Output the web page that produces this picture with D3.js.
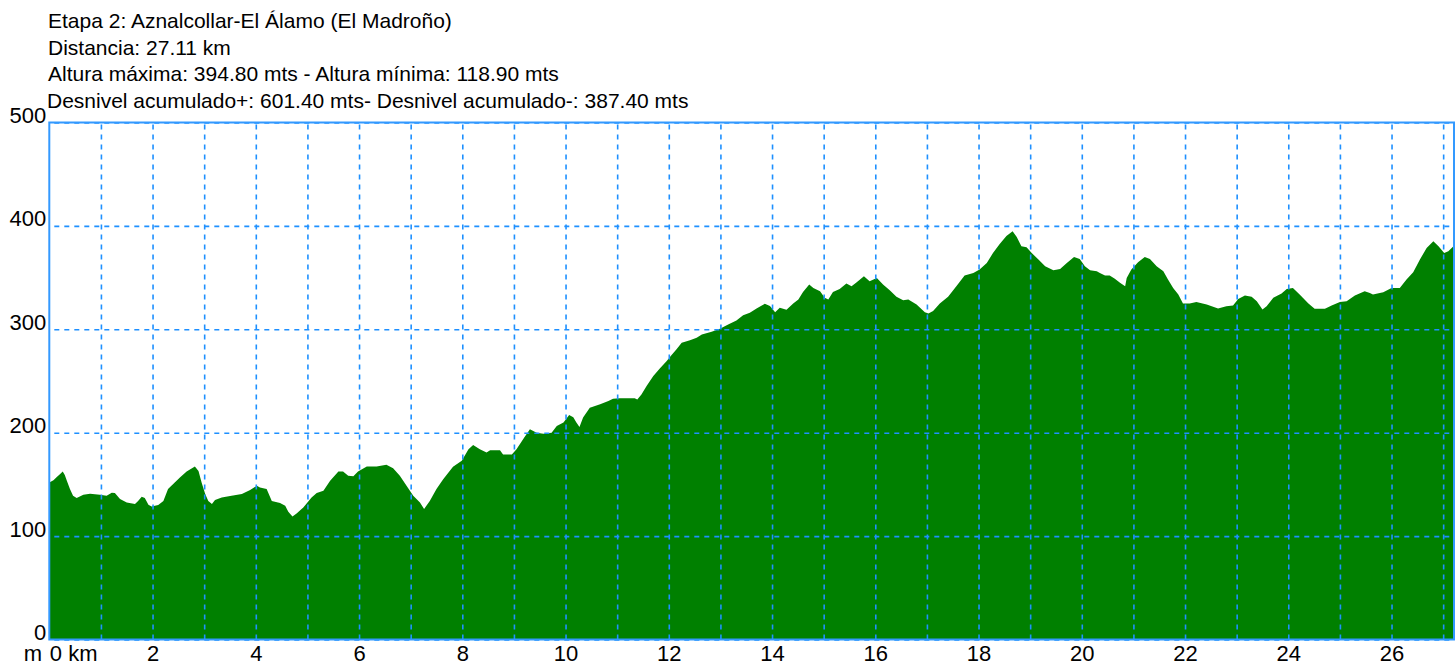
<!DOCTYPE html>
<html>
<head>
<meta charset="utf-8">
<script src="https://cdn.jsdelivr.net/npm/d3@7"></script>
<style>
  body { margin: 0; background: #fff; }
  svg { display: block; font-family: "Liberation Sans", Arial, sans-serif; }
</style>
</head>
<body>
<script>
// profile data (km, metres)
var distKm = [0.00, 0.08, 0.14, 0.21, 0.26, 0.30, 0.34, 0.40, 0.46, 0.53, 0.66, 0.79, 0.98, 1.11, 1.21, 1.27, 1.37, 1.50, 1.66, 1.72,
  1.79, 1.85, 1.92, 1.98, 2.11, 2.21, 2.30, 2.40, 2.53, 2.66, 2.82, 2.89, 2.95, 3.02, 3.08, 3.15, 3.21, 3.34, 3.53, 3.73,
  3.89, 4.02, 4.08, 4.21, 4.31, 4.47, 4.57, 4.63, 4.71, 4.79, 4.92, 5.08, 5.18, 5.31, 5.44, 5.60, 5.69, 5.79, 5.89, 5.98,
  6.15, 6.34, 6.53, 6.66, 6.79, 6.92, 7.05, 7.18, 7.26, 7.37, 7.50, 7.63, 7.82, 7.99, 8.12, 8.21, 8.34, 8.47, 8.54, 8.73,
  8.79, 8.96, 9.05, 9.21, 9.31, 9.44, 9.57, 9.73, 9.83, 9.96, 10.07, 10.15, 10.21, 10.27, 10.34, 10.47, 10.67, 10.83, 10.92, 11.05,
  11.34, 11.39, 11.47, 11.57, 11.70, 11.83, 11.96, 12.05, 12.15, 12.25, 12.41, 12.54, 12.64, 12.83, 12.99, 13.15, 13.31, 13.44, 13.57, 13.70,
  13.86, 13.96, 14.06, 14.15, 14.28, 14.41, 14.51, 14.60, 14.72, 14.80, 14.93, 15.02, 15.09, 15.18, 15.31, 15.44, 15.54, 15.64, 15.78, 15.89,
  16.03, 16.15, 16.28, 16.41, 16.54, 16.64, 16.80, 16.96, 17.03, 17.12, 17.25, 17.41, 17.57, 17.73, 17.90, 18.02, 18.16, 18.28, 18.41, 18.54,
  18.66, 18.74, 18.83, 18.93, 19.03, 19.16, 19.29, 19.45, 19.58, 19.71, 19.85, 19.96, 20.06, 20.16, 20.29, 20.35, 20.45, 20.54, 20.64, 20.74,
  20.84, 20.87, 20.96, 21.09, 21.22, 21.32, 21.45, 21.58, 21.67, 21.77, 21.87, 21.96, 22.09, 22.22, 22.42, 22.64, 22.80, 22.93, 23.03, 23.16,
  23.29, 23.39, 23.50, 23.58, 23.71, 23.87, 23.97, 24.09, 24.22, 24.39, 24.51, 24.71, 24.84, 25.00, 25.13, 25.29, 25.48, 25.58, 25.64, 25.84,
  26.00, 26.16, 26.29, 26.42, 26.55, 26.68, 26.81, 26.91, 27.02, 27.10, 27.21];
var altM = [151.8, 154, 157, 160, 162.5, 159, 153.5, 145.5, 139, 136.8, 140, 141, 140, 139, 142, 141.6, 135.8, 132.5, 131, 134,
  138, 136.8, 130.3, 128.7, 130, 134, 145.5, 150.3, 156.7, 162.5, 167.3, 163, 151.8, 140.6, 134, 131, 135, 137.4, 139, 140.6,
  144.5, 148.6, 147, 145.5, 134, 132, 129.3, 123.5, 119, 121.9, 127.7, 137.4, 141.6, 143.8, 153.5, 162.5, 162.5, 158.3, 158, 162.5,
  167.3, 167.3, 169, 165.7, 158.3, 148.6, 139, 132.5, 126.2, 134, 145.5, 155, 167, 172.8, 184, 188.2, 184, 180.8, 183, 183,
  179, 179, 184, 196, 203.4, 200, 199, 200, 206.6, 209.8, 217, 215, 209.8, 205.6, 214.6, 224.2, 227.5, 230.7, 232.9, 233.3,
  233.3, 232, 237, 245.2, 254.8, 262.3, 269.3, 275, 280.6, 287, 289.3, 291.8, 295, 297.6, 300.5, 304.7, 308.6, 313.7, 316, 320,
  324.6, 322.5, 316.6, 320.8, 319, 325, 328.9, 336, 343.3, 340, 336.9, 330.4, 328.9, 336, 339, 344.3, 341.7, 345.6, 351.4, 346.5,
  349.7, 343.3, 337.8, 331.4, 328.2, 328.9, 324, 316.6, 315.3, 317.6, 325, 331.4, 341.7, 352, 354.5, 357.8, 364.2, 373.8, 382.5, 390.3,
  394.8, 389.3, 380.3, 379.3, 373.8, 367.5, 361, 357.1, 358.4, 364.2, 370, 368, 361, 357.1, 356.2, 354.5, 352, 352, 348.8, 344.9,
  341.7, 349.7, 357.8, 364.9, 370, 368, 361, 356.2, 348.2, 340, 333.7, 325, 325, 326.3, 324, 320.2, 322.4, 323, 329.4, 332.7,
  331.4, 327.2, 319.2, 322.4, 330.4, 334.6, 339, 340, 333.7, 325, 319.8, 319.8, 323, 326.3, 327.2, 332.7, 336.9, 335.2, 333.7, 335.9,
  340, 340, 348.2, 355.2, 367.5, 378.7, 385.1, 380.3, 373.8, 375.5, 380.9];

var yTicks = [0, 100, 200, 300, 400, 500];
var xLabelTicks = [0, 2, 4, 6, 8, 10, 12, 14, 16, 18, 20, 22, 24, 26];
var xGridTicks = d3.range(1, 28);
var titleLines = [
  "Etapa 2: Aznalcollar-El Álamo (El Madroño)",
  "Distancia: 27.11 km",
  "Altura máxima: 394.80 mts - Altura mínima: 118.90 mts",
  "Desnivel acumulado+: 601.40 mts- Desnivel acumulado-: 387.40 mts"
];

var W = 1456, H = 665;
var plotL = 49.3, plotR = 1454, plotT = 122.5, plotB = 639.5;
var gridColor = '#1e90ff';

var svg = d3.select("body").append("svg")
    .attr("width", W)
    .attr("height", H);

var x = d3.scaleLinear().domain([0, 27.21]).range([plotL, plotR]);
var y = d3.scaleLinear().domain([0, 500]).range([plotB, plotT]);

// header text
svg.selectAll("text.title")
    .data(titleLines)
    .enter().append("text")
    .attr("class", "title")
    .attr("x", function(d, i) { return i == 3 ? 47 : 48; })
    .attr("y", function(d, i) { return 28 + i * 26.7; })
    .attr("font-size", 21)
    .attr("fill", "#000")
    .text(function(d) { return d; });

// elevation area
var pts = distKm.map(function(d, i) { return [d, altM[i]]; });
var area = d3.area()
    .x(function(d) { return x(d[0]); })
    .y0(y(0))
    .y1(function(d) { return y(d[1]); });

svg.append("path")
    .datum(pts)
    .attr("d", area)
    .attr("fill", "#008000");

// grid
var gx = svg.append("g")
    .attr("transform", "translate(0," + plotB + ")")
    .call(d3.axisBottom(x).tickValues(xGridTicks).tickSize(-(plotB - plotT)).tickFormat(""));
gx.select(".domain").remove();
gx.selectAll("line")
    .attr("stroke", gridColor)
    .attr("stroke-width", 1.6)
    .attr("stroke-dasharray", "5,5");

var gy = svg.append("g")
    .attr("transform", "translate(" + plotL + ",0)")
    .call(d3.axisLeft(y).tickValues(yTicks).tickSize(-(plotR - plotL)).tickPadding(3));
gy.select(".domain").remove();
gy.selectAll("line")
    .attr("stroke", gridColor)
    .attr("stroke-width", 1.6)
    .attr("stroke-dasharray", "5,5")
    .attr("stroke-dashoffset", -5);
gy.selectAll("text")
    .attr("dy", "0")
    .attr("font-size", 22)
    .attr("font-family", "Liberation Sans, Arial, sans-serif")
    .attr("fill", "#000");

// x labels
var lx = svg.append("g")
    .attr("transform", "translate(0," + plotB + ")")
    .call(d3.axisBottom(x).tickValues(xLabelTicks).tickSize(0).tickPadding(6)
        .tickFormat(function(d) { return d == 0 ? "0 km" : d; }));
lx.select(".domain").remove();
lx.selectAll("text")
    .attr("font-size", 22)
    .attr("font-family", "Liberation Sans, Arial, sans-serif")
    .attr("fill", "#000")
    .attr("text-anchor", function(d) { return d == 0 ? "start" : "middle"; });

svg.append("text")
    .attr("x", 42)
    .attr("y", 661)
    .attr("text-anchor", "end")
    .attr("font-size", 22)
    .text("m");

// plot frame
svg.append("rect")
    .attr("x", plotL)
    .attr("y", plotT)
    .attr("width", plotR - plotL)
    .attr("height", plotB - plotT)
    .attr("fill", "none")
    .attr("stroke", "#3399ff")
    .attr("stroke-width", 2);
</script>
</body>
</html>
